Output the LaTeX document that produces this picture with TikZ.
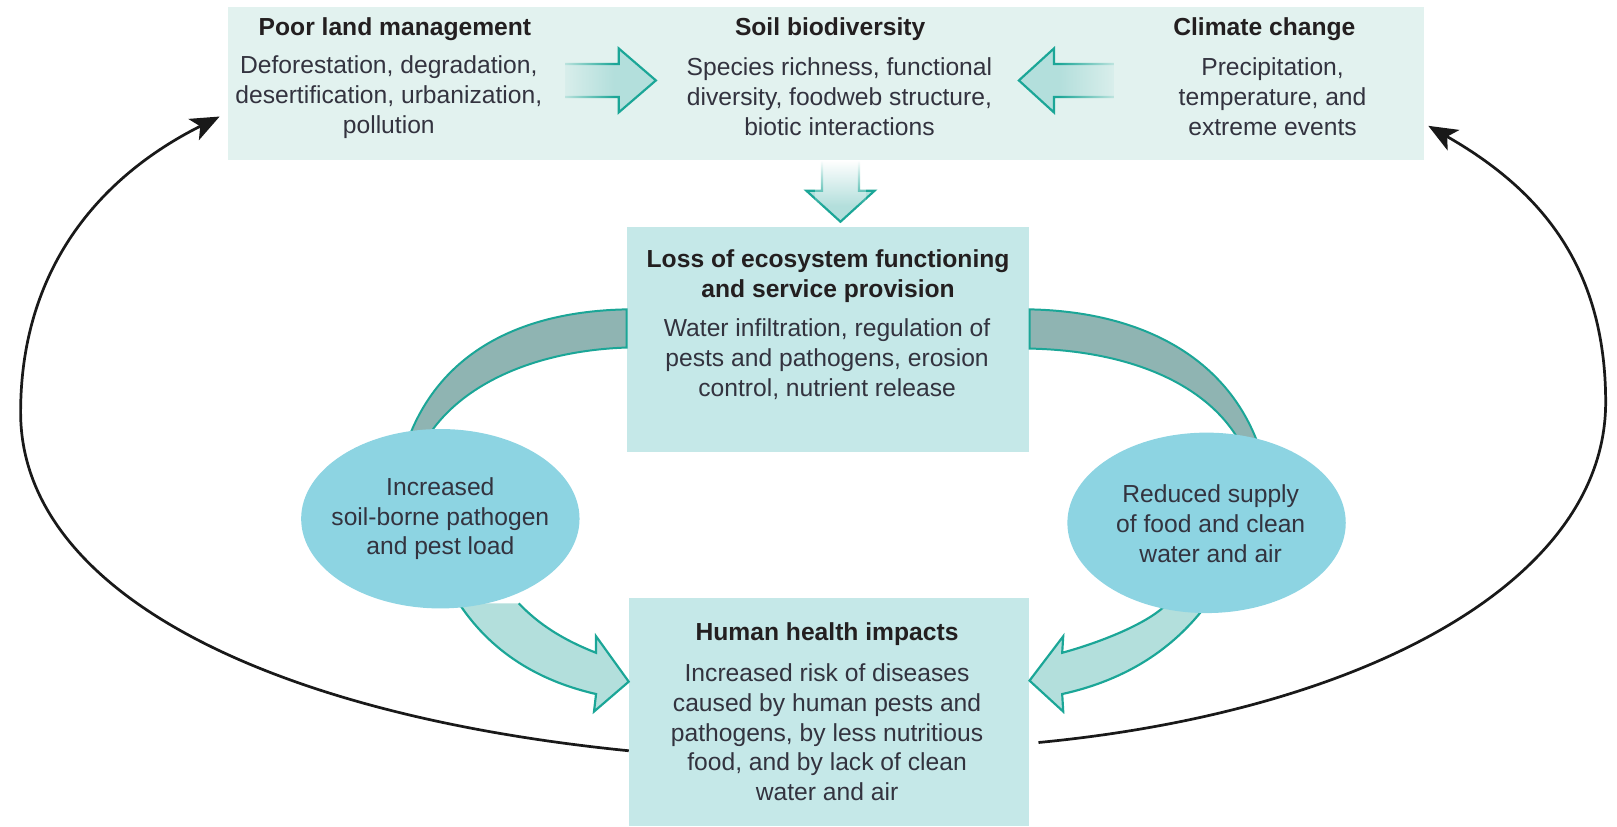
\documentclass[tikz,border=0pt]{standalone}
\usepackage{fontspec}
\setmainfont{Liberation Sans}
\usetikzlibrary{shapes.geometric,arrows.meta,fadings,calc}
\definecolor{bandfill}{HTML}{E2F2EF}
\definecolor{boxfill}{HTML}{C5E8E8}
\definecolor{ellfill}{HTML}{8DD4E2}
\definecolor{arrfill}{HTML}{B3DFDC}
\definecolor{arrline}{HTML}{1BA697}
\definecolor{crescfill}{HTML}{8FB4B2}
\definecolor{titlecol}{HTML}{231F20}
\definecolor{bodycol}{HTML}{33333F}
\tikzfading[name=fadeR, left color=transparent!0, right color=transparent!100]
\tikzfading[name=fadeL, left color=transparent!100, right color=transparent!0]
\tikzfading[name=fadeD, top color=transparent!0, bottom color=transparent!100]
\tikzset{
  titletxt/.style={font=\fontsize{13.6}{16.45}\selectfont\bfseries, text=titlecol, align=center, inner sep=0pt},
  bodytxt/.style={font=\fontsize{13.6}{16.45}\selectfont, text=bodycol, align=center, inner sep=0pt},
  boxnode/.style={rectangle, fill=boxfill, draw=none, inner sep=0pt},
  ellnode/.style={ellipse, fill=ellfill, draw=none, inner sep=0pt},
  fatarrow/.style={fill=arrfill, draw=arrline, line width=1.2pt, line join=miter},
  crescent/.style={fill=crescfill, draw=arrline, line width=1.1pt},
  loopline/.style={draw=black!90, line width=1.5pt, -{Stealth[length=16pt,width=13pt,inset=4pt]}}
}
\begin{document}
\begin{tikzpicture}[x=0.02cm, y=-0.02cm]
\useasboundingbox (0,0) rectangle (1568,801);

% top band
\node[rectangle, fill=bandfill, inner sep=0pt, minimum width=23.2cm, minimum height=2.96cm] (band) at (801,81) {};

% middle and bottom boxes
\node[boxnode, minimum width=7.8cm, minimum height=4.36cm] (loss) at (803,329) {};
\node[boxnode, minimum width=7.76cm, minimum height=4.42cm] (hhi) at (804,690.5) {};

% top texts
\node[titletxt] (tplm) at (383,28.5) {Poor land management};
\node[bodytxt] (bplm) at (377,94) {Deforestation, degradation,\\desertification, urbanization,\\pollution};
\node[titletxt] (tsb) at (805,28.5) {Soil biodiversity};
\node[bodytxt] (bsb) at (814,94) {Species richness, functional\\diversity, foodweb structure,\\biotic interactions};
\node[titletxt] (tcc) at (1226,28.5) {Climate change};
\node[bodytxt] (bcc) at (1234,94) {Precipitation,\\temperature, and\\extreme events};

% horizontal fat arrows in band
\draw[fatarrow] (548,62) -- (600,62) -- (600,47) -- (636,78) -- (600,109) -- (600,94) -- (548,94);
\fill[bandfill, path fading=fadeR] (536,56) rectangle (596,100);
\draw[fatarrow] (1080,62) -- (1022,62) -- (1022,47) -- (988,78) -- (1022,109) -- (1022,94) -- (1080,94);
\fill[bandfill, path fading=fadeL] (1026,56) rectangle (1092,100);

% down arrow
\draw[fatarrow] (797,156) -- (797,185) -- (782,185) -- (815,215) -- (848,185) -- (833,185) -- (833,156);
\fill[white, path fading=fadeD] (790,155.6) rectangle (840,200);

% middle texts
\node[titletxt] (tloss) at (803,268) {Loss of ecosystem functioning\\and service provision};
\node[bodytxt] (bloss) at (802,348) {Water infiltration, regulation of\\pests and pathogens, erosion\\control, nutrient release};

% crescents from loss box to ellipses
\draw[crescent] (loss.west |- 0,300) .. controls (500,302) and (425,345) .. (395,428)
  -- (412,428) .. controls (445,372) and (520,340) .. (loss.west |- 0,337) -- cycle;
\draw[crescent] (loss.east |- 0,300) .. controls (1105,302) and (1187,345) .. (1219,428)
  -- (1202,428) .. controls (1170,372) and (1095,340) .. (loss.east |- 0,338) -- cycle;

% lower fat arrows to human health box
\draw[fatarrow] (445,585) .. controls (480,638) and (530,662) .. (578,673)
  -- (576,690) -- (hhi.west |- 0,661) -- (578,617) -- (578,633)
  .. controls (545,620) and (522,605) .. (503,585);
\draw[fatarrow] (1168,589) .. controls (1130,638) and (1080,662) .. (1030,673)
  -- (1031,690) -- (hhi.east |- 0,660) -- (1031,617) -- (1030,633)
  .. controls (1070,622) and (1110,605) .. (1128,589);

% ellipses
\node[ellnode, minimum width=5.4cm, minimum height=3.48cm] (epest) at (427,503) {};
\node[bodytxt] (tpest) at (427,503) {Increased\\soil-borne pathogen\\and pest load};
\node[ellnode, minimum width=5.4cm, minimum height=3.5cm] (efood) at (1170,507) {};
\node[bodytxt] (tfood) at (1174,508) {Reduced supply\\of food and clean\\water and air};

% bottom texts
\node[titletxt] (thhi) at (802,615) {Human health impacts};
\node[bodytxt] (bhhi) at (802,710) {Increased risk of diseases\\caused by human pests and\\pathogens, by less nutritious\\food, and by lack of clean\\water and air};

% feedback loops
\coordinate (la) at (hhi.west |- 0,728);
\coordinate (lt) at (213,113);
\coordinate (ra) at (1007,720);
\coordinate (rt) at (1385,122);
\draw[loopline] (la) .. controls (250,692) and (20,570) .. (20,400) .. controls (20,262) and (95,172) .. (lt);
\draw[loopline] (ra) .. controls (1320,690) and (1557,565) .. (1557,390) .. controls (1557,255) and (1490,182) .. (rt);
\end{tikzpicture}
\end{document}
